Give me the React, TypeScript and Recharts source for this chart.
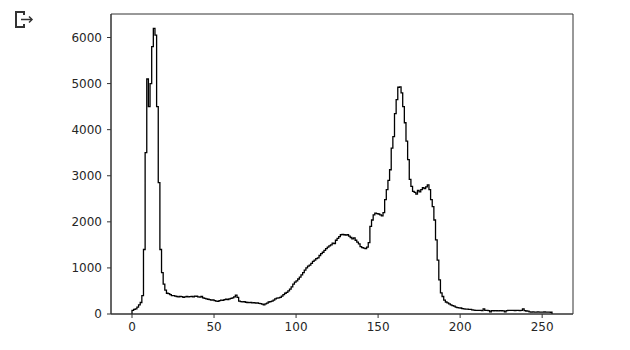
import React from "react";
import { LineChart, Line, XAxis, YAxis, ReferenceArea } from "recharts";

// pixel-intensity histogram, 256 bins (0..255)
const bins000to039 = [
  80, 100, 110, 150, 200, 250, 400, 1400, 3500, 5100,
  4500, 5000, 5800, 6200, 6050, 4500, 2850, 1400, 900, 650,
  520, 450, 440, 420, 400, 400, 390, 380, 370, 380,
  375, 360, 370, 380, 370, 375, 380, 370, 390, 385,
];
const bins040to079 = [
  370, 365, 380, 350, 340, 330, 320, 310, 300, 305,
  290, 280, 275, 290, 300, 295, 310, 320, 315, 330,
  340, 350, 370, 410, 360, 280, 270, 265, 270, 255,
  250, 245, 250, 240, 245, 235, 240, 230, 225, 215,
];
const bins080to119 = [
  200, 220, 235, 260, 270, 280, 300, 330, 345, 350,
  360, 390, 420, 450, 470, 500, 540, 590, 650, 690,
  720, 760, 800, 850, 900, 950, 1000, 1040, 1060, 1100,
  1140, 1170, 1200, 1220, 1270, 1310, 1340, 1380, 1420, 1450,
];
const bins120to159 = [
  1480, 1500, 1540, 1530, 1600, 1640, 1680, 1720, 1730, 1720,
  1710, 1720, 1690, 1660, 1630, 1650, 1600, 1560, 1520, 1460,
  1440, 1430, 1420, 1450, 1550, 1900, 2040, 2150, 2190, 2180,
  2170, 2150, 2130, 2200, 2480, 2700, 2900, 3130, 3600, 3850,
];
const bins160to199 = [
  4350, 4650, 4920, 4930, 4800, 4500, 4150, 3750, 3350, 2920,
  2770, 2660, 2640, 2600, 2680, 2650, 2700, 2740, 2720, 2760,
  2800, 2700, 2480, 2330, 2040, 1610, 1170, 740, 460, 380,
  300, 260, 240, 220, 200, 180, 170, 150, 140, 135,
];
const bins200to255 = [
  130, 115, 110, 105, 105, 100, 100, 90, 85, 80,
  80, 78, 80, 75, 110, 80, 78, 75, 45, 72,
  70, 72, 70, 68, 72, 70, 68, 45, 75, 78,
  80, 78, 80, 76, 78, 80, 75, 78, 110, 75,
  65, 62, 45, 42, 44, 40, 42, 44, 40, 42,
  41, 43, 40, 42, 40, 38,
];

const counts = [
  ...bins000to039,
  ...bins040to079,
  ...bins080to119,
  ...bins120to159,
  ...bins160to199,
  ...bins200to255,
];

const xTicks = [0, 50, 100, 150, 200, 250];
const yTicks = [0, 1000, 2000, 3000, 4000, 5000, 6000];

const nBins = counts.length;
const xMin = -0.05 * nBins;
const xMax = nBins * 1.05;
const yMax = Math.max(...counts) * 1.05;

// step outline: baseline -> bins -> baseline
const stepData = [
  { x: 0, y: 0 },
  ...counts.map((v, i) => ({ x: i, y: v })),
  { x: nBins, y: counts[nBins - 1] },
  { x: nBins, y: 0 },
];

const FONT = "'DejaVu Sans', sans-serif";
const tickStyle = { fontFamily: FONT, fontSize: 12, fill: "#262626" };

export default function App() {
  return (
    <div>
      <svg
        width={40}
        height={32}
        style={{ position: "absolute", left: 0, top: 0 }}
      >
        <path
          d="M24 15 V12 H16 V27 H24 V24"
          stroke="#333"
          strokeWidth={2}
          fill="none"
        />
        <path d="M21 19.5 H32" stroke="#333" strokeWidth={1.5} fill="none" />
        <path
          d="M29 16.5 L32 19.5 L29 22.5"
          stroke="#333"
          strokeWidth={1.5}
          fill="none"
        />
      </svg>
      <LineChart
        width={622}
        height={340}
        data={stepData}
        margin={{ top: 6, right: 57, bottom: 4, left: 0 }}
      >
        <XAxis
          dataKey="x"
          type="number"
          domain={[xMin, xMax]}
          ticks={xTicks}
          allowDataOverflow
          height={30}
          tickSize={4}
          tickMargin={4}
          stroke="#333"
          tick={tickStyle}
          tickLine={{ stroke: "#333" }}
          axisLine={{ stroke: "#333" }}
        />
        <YAxis
          type="number"
          domain={[0, yMax]}
          ticks={yTicks}
          allowDataOverflow
          width={103}
          tickSize={4}
          tickMargin={5}
          stroke="#333"
          tick={tickStyle}
          tickLine={{ stroke: "#333" }}
          axisLine={{ stroke: "#333" }}
        />
        <ReferenceArea
          x1={xMin}
          x2={xMax}
          y1={0}
          y2={yMax}
          fill="none"
          stroke="#333"
          strokeWidth={1}
          ifOverflow="visible"
        />
        <Line
          type="stepAfter"
          dataKey="y"
          stroke="#000"
          strokeWidth={1.3}
          dot={false}
          isAnimationActive={false}
        />
      </LineChart>
    </div>
  );
}
